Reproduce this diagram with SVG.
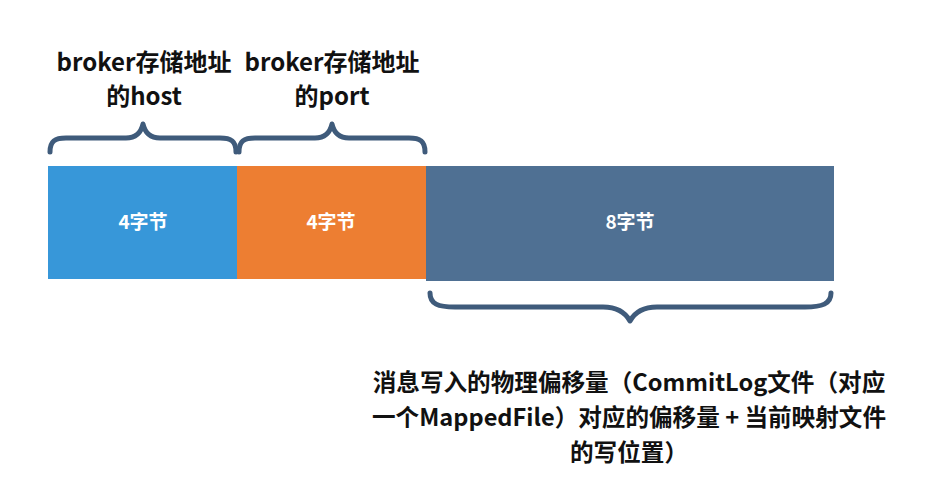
<svg xmlns="http://www.w3.org/2000/svg" width="948" height="504" viewBox="0 0 948 504">
<style>
.t{font-family:"Noto Sans CJK SC","Noto Sans",sans-serif;font-weight:bold;text-anchor:middle;fill:#111}
.w{font-family:"Noto Sans CJK SC","Noto Sans",sans-serif;font-weight:bold;text-anchor:middle;fill:#fff;font-size:19px}
.b{fill:none;stroke:#3f5b7b;stroke-width:5;stroke-linecap:round;stroke-linejoin:round}
</style>
<rect width="948" height="504" fill="#fff"/>
<g id="host">
<rect x="48" y="166" width="189" height="113" fill="#3797d9"/>
<text class="w" x="143" y="229">4字节</text>
</g>
<g id="port">
<rect x="237" y="166" width="189" height="113" fill="#ed7e32"/>
<text class="w" x="331" y="229">4字节</text>
</g>
<g id="offset">
<rect x="426" y="166" width="408" height="115" fill="#4f7093"/>
<text class="w" x="630" y="229">8字节</text>
</g>
<g id="connectors">
<path class="b" d="M50 152 C50 141 55 138 66 138 L126 138 C136 138 141 133 143 124 C145 133 150 138 160 138 L220 138 C231 138 236 141 236 152"/>
<path class="b" d="M239 152 C239 141 244 138 255 138 L315 138 C325 138 330 133 332 124 C334 133 339 138 349 138 L409 138 C420 138 425 141 425 152"/>
<path class="b" d="M430 293 C430 304 438 307 455 307 L603 307 C617 307 625 312 630 321 C635 312 643 307 657 307 L805 307 C822 307 831 304 831 293"/>
</g>
<g id="labels">
<text class="t" font-size="24" x="144" y="71">broker存储地址</text>
<text class="t" font-size="24" x="144" y="105">的host</text>
<text class="t" font-size="24" x="332" y="71">broker存储地址</text>
<text class="t" font-size="24" x="332" y="105">的port</text>
<text class="t" font-size="23.6" x="629" y="391">消息写入的物理偏移量（CommitLog文件（对应</text>
<text class="t" font-size="23.6" x="629" y="426">一个MappedFile）对应的偏移量 + 当前映射文件</text>
<text class="t" font-size="23.6" x="629" y="461">的写位置）</text>
</g>
</svg>
